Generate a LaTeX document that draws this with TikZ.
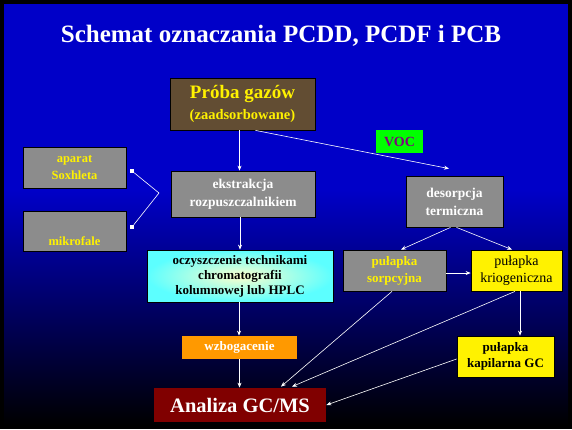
\documentclass[tikz,border=0pt]{standalone}
\usepackage{fontspec}
\setmainfont{Liberation Serif}
\usepackage{tikz}
\usetikzlibrary{arrows.meta, positioning, calc}
\definecolor{slideblue}{HTML}{0000C8}
\definecolor{boxgray}{HTML}{8C8C8C}
\definecolor{probabrown}{HTML}{624D33}
\definecolor{vocgreen}{HTML}{00FF00}
\definecolor{vocpurple}{HTML}{800080}
\definecolor{enrichorange}{HTML}{FF9900}
\definecolor{gcmsred}{HTML}{800000}
\definecolor{paleyellow}{HTML}{FFFFCC}
\definecolor{cleancyan}{HTML}{5CFFFF}

\begin{document}
\begin{tikzpicture}[x=1pt, y=-1pt, >={Stealth[length=5pt, width=4pt]},
    box/.style={draw=black, line width=0.8pt, align=center, inner sep=0pt,
      font=\bfseries\fontsize{13.5}{18}\selectfont},
    graybox/.style={box, fill=boxgray},
    flow/.style={draw=white, line width=0.6pt, ->},
    dot/.style={fill=white, minimum size=4pt, inner sep=0pt}]
        % background
        \useasboundingbox (0,0) rectangle (572,429);
        \fill[black] (0,0) rectangle (572,429);
        \fill[slideblue] (4,4) rectangle (568,190);
        \shade[top color=slideblue, bottom color=black] (4,190) rectangle (568,425);
        \node[text=white, font=\bfseries\fontsize{25}{30}\selectfont] (title) at (281,36) {Schemat oznaczania PCDD, PCDF i PCB};

        \node[box, fill=probabrown, text=yellow, minimum width=145pt, minimum height=52pt,
          font=\bfseries\fontsize{19}{22}\selectfont] (proba) at (242.5,104)
          {Próba gazów\\[-1pt]{\fontsize{14.5}{16}\selectfont(zaadsorbowane)}};
        \node[box, draw=none, fill=vocgreen, text=vocpurple, minimum width=47pt, minimum height=23pt,
          font=\bfseries\fontsize{14}{15}\selectfont] (voc) at (399.5,141.5) {VOC};

        \node[graybox, text=yellow, minimum width=103pt, minimum height=41pt,
          font=\bfseries\fontsize{12.5}{17}\selectfont] (soxhlet) at (74.5,167.5) {aparat\\Soxhleta};
        \node[graybox, text=yellow, minimum width=103pt, minimum height=40pt,
          font=\bfseries\fontsize{12.5}{17}\selectfont] (mikrofale) at (74.5,231) {\strut\\mikrofale};
        \node[graybox, text=white, minimum width=144pt, minimum height=46pt] (ekstrakcja) at (243,194)
          {ekstrakcja\\rozpuszczalnikiem};
        \node[graybox, text=white, minimum width=97pt, minimum height=51pt] (desorpcja) at (454.5,201.5)
          {desorpcja\\termiczna};

        \node[box, inner color=paleyellow, outer color=cleancyan, minimum width=186pt, minimum height=52pt,
          font=\bfseries\fontsize{13}{15}\selectfont] (oczyszczenie) at (240,276)
          {oczyszczenie technikami\\chromatografii\\kolumnowej lub HPLC};
        \node[graybox, text=yellow, minimum width=103pt, minimum height=41pt,
          font=\bfseries\fontsize{13}{17}\selectfont] (sorpcyjna) at (394.5,270.5) {pułapka\\sorpcyjna};
        \node[box, fill=yellow, minimum width=91pt, minimum height=41pt,
          font=\fontsize{14}{17}\selectfont] (kriogeniczna) at (516.5,270.5) {pułapka\\kriogeniczna};

        \node[box, draw=none, fill=enrichorange, text=white, minimum width=115pt, minimum height=23pt,
          font=\bfseries\fontsize{13}{14}\selectfont] (wzbogacenie) at (239.5,347.5) {wzbogacenie};
        \node[box, fill=yellow, minimum width=97pt, minimum height=41pt,
          font=\bfseries\fontsize{13}{16}\selectfont] (kapilarna) at (505.5,356.5) {pułapka\\kapilarna GC};
        \node[box, draw=none, fill=gcmsred, text=white, minimum width=172pt, minimum height=34pt,
          font=\bfseries\fontsize{20.5}{24}\selectfont] (analiza) at (240,405) {Analiza GC/MS};

        % extraction methods
        \node[dot] (soxdot) at (132,171) {};
        \node[dot] (mikrodot) at (132,227) {};
        \coordinate (methods) at (159,193);
        \draw[white, line width=0.6pt] (soxdot) -- (methods) -- (mikrodot);

        % flow
        \draw[flow] ([xshift=-3pt]proba.south) -- ([xshift=-3pt]proba.south |- ekstrakcja.north);
        \draw[flow] ([xshift=13pt]proba.south) -- ([xshift=-5.5pt, yshift=7pt]desorpcja.north);
        \draw[flow] ([xshift=-3pt]ekstrakcja.south) -- ([xshift=-3pt]ekstrakcja.south |- oczyszczenie.north);
        \draw[flow] ([xshift=-1pt]oczyszczenie.south) -- ([xshift=-1pt]oczyszczenie.south |- wzbogacenie.north);
        \draw[flow] (wzbogacenie.south) -- (wzbogacenie.south |- analiza.north);
        \draw[flow] ([xshift=-4pt]desorpcja.south) -- ([xshift=6.5pt]sorpcyjna.north);
        \draw[flow] ([xshift=2pt]desorpcja.south) -- ([xshift=-4.5pt]kriogeniczna.north);
        \draw[flow] ([yshift=-2.5pt]sorpcyjna.east) -- ([yshift=-2.5pt]kriogeniczna.west);
        \draw[flow] ([xshift=3.5pt]kriogeniczna.south) -- ([xshift=3.5pt]kriogeniczna.south |- kapilarna.north);
        \draw[flow] ([xshift=-2.5pt]sorpcyjna.south) -- ([xshift=41pt, yshift=1pt]analiza.north);
        \draw[flow] ([xshift=-1.5pt]kriogeniczna.south) -- ([xshift=52pt, yshift=1pt]analiza.north);
        \draw[flow] ([yshift=-2.5pt]kapilarna.west) -- (analiza.east);
\end{tikzpicture}
\end{document}
